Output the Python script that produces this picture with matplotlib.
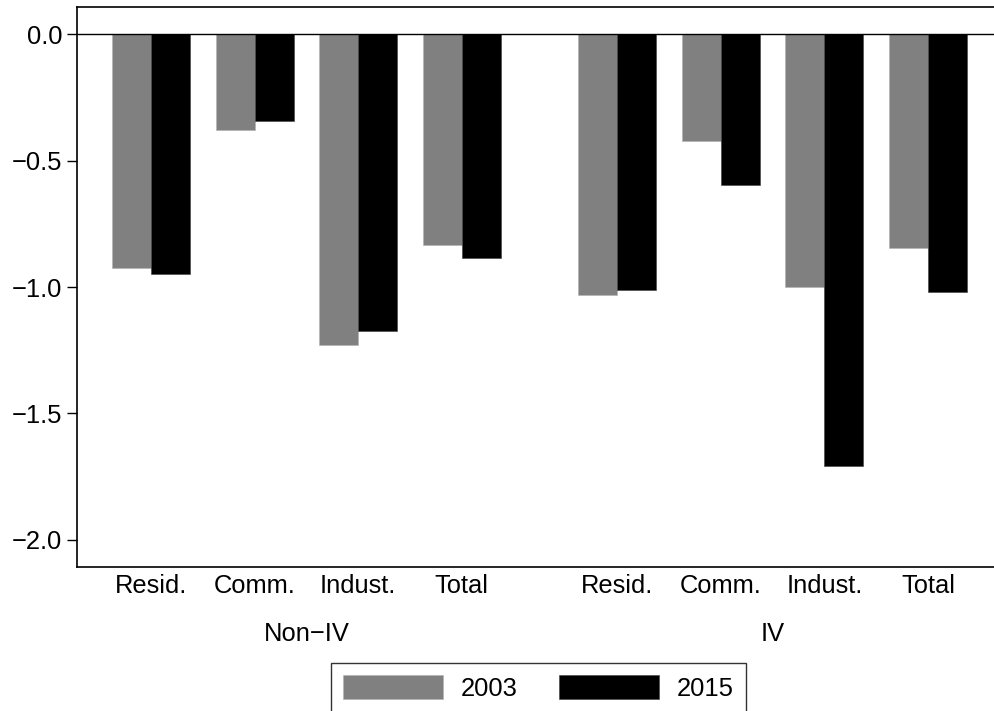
import numpy as np
import matplotlib.pyplot as plt

plt.rcParams['font.family'] = ['Liberation Sans', 'DejaVu Sans']
plt.rcParams['font.size'] = 18.4

# sectors shown under each group of bars
sectors = ['Resid.', 'Comm.', 'Indust.', 'Total']
groups = ['Non\u2212IV', 'IV']
years = ['2003', '2015']

# values per group, in sector order
nonIV_2003 = [-0.923, -0.377, -1.229, -0.834]
nonIV_2015 = [-0.948, -0.343, -1.172, -0.884]
IV_2003 = [-1.031, -0.421, -1.001, -0.845]
IV_2015 = [-1.012, -0.597, -1.707, -1.019]

yticks = [0.0, -0.5, -1.0, -1.5, -2.0]

colors = ['#808080', '#000000']
BAR_W = 0.376
GROUP_GAP = 1.5


def fmt_tick(t):
    # typographic minus for negative values
    s = f'{abs(t):.1f}'
    return '\u2212' + s if t < 0 else s


def main():
    fig = plt.figure(figsize=(9.95, 7.11), dpi=100)
    ax = fig.add_axes([0.0777, 0.2030, 0.9223, 0.7867])

    # x positions: four sectors per group, a wider gap between groups
    n = len(sectors)
    pos = np.concatenate([np.arange(n), np.arange(n) + n - 1 + GROUP_GAP])

    v2003 = nonIV_2003 + IV_2003
    v2015 = nonIV_2015 + IV_2015
    ax.bar(pos - BAR_W / 2, v2003, BAR_W, color=colors[0], label=years[0],
           edgecolor='#b0b0b0', linewidth=0.4)
    ax.bar(pos + BAR_W / 2, v2015, BAR_W, color=colors[1], label=years[1],
           edgecolor='#404040', linewidth=0.4)

    ax.axhline(0, color='black', linewidth=1.0, zorder=3)

    ax.set_xlim(-0.711, 8.147)
    ax.set_ylim(-2.106, 0.107)
    ax.set_yticks(yticks)
    ax.set_yticklabels([fmt_tick(t) for t in yticks])
    ax.set_xticks(pos)
    ax.set_xticklabels(sectors * 2)

    ax.tick_params(axis='y', length=7.2, width=1.0, pad=3.8, direction='out')
    ax.tick_params(axis='x', length=0, pad=5)

    for side in ['left', 'top', 'bottom']:
        ax.spines[side].set_linewidth(1.2)
    ax.spines['right'].set_visible(False)

    # group names below the sector labels
    for g, name in enumerate(groups):
        xc = pos[g * n:(g + 1) * n].mean()
        ax.text(xc, -0.1328, name, transform=ax.get_xaxis_transform(),
                ha='center', va='baseline')

    leg = fig.legend(loc='upper center', bbox_to_anchor=(0.541, 0.0675),
                     ncol=2, frameon=True, fancybox=False, shadow=False,
                     handlelength=3.92, handleheight=1.06, handletextpad=0.7,
                     columnspacing=1.6, borderpad=0.47, borderaxespad=0)
    leg.get_frame().set_edgecolor('black')
    leg.get_frame().set_linewidth(1.0)

    fig.savefig('out.png', dpi=100)


if __name__ == '__main__':
    main()
